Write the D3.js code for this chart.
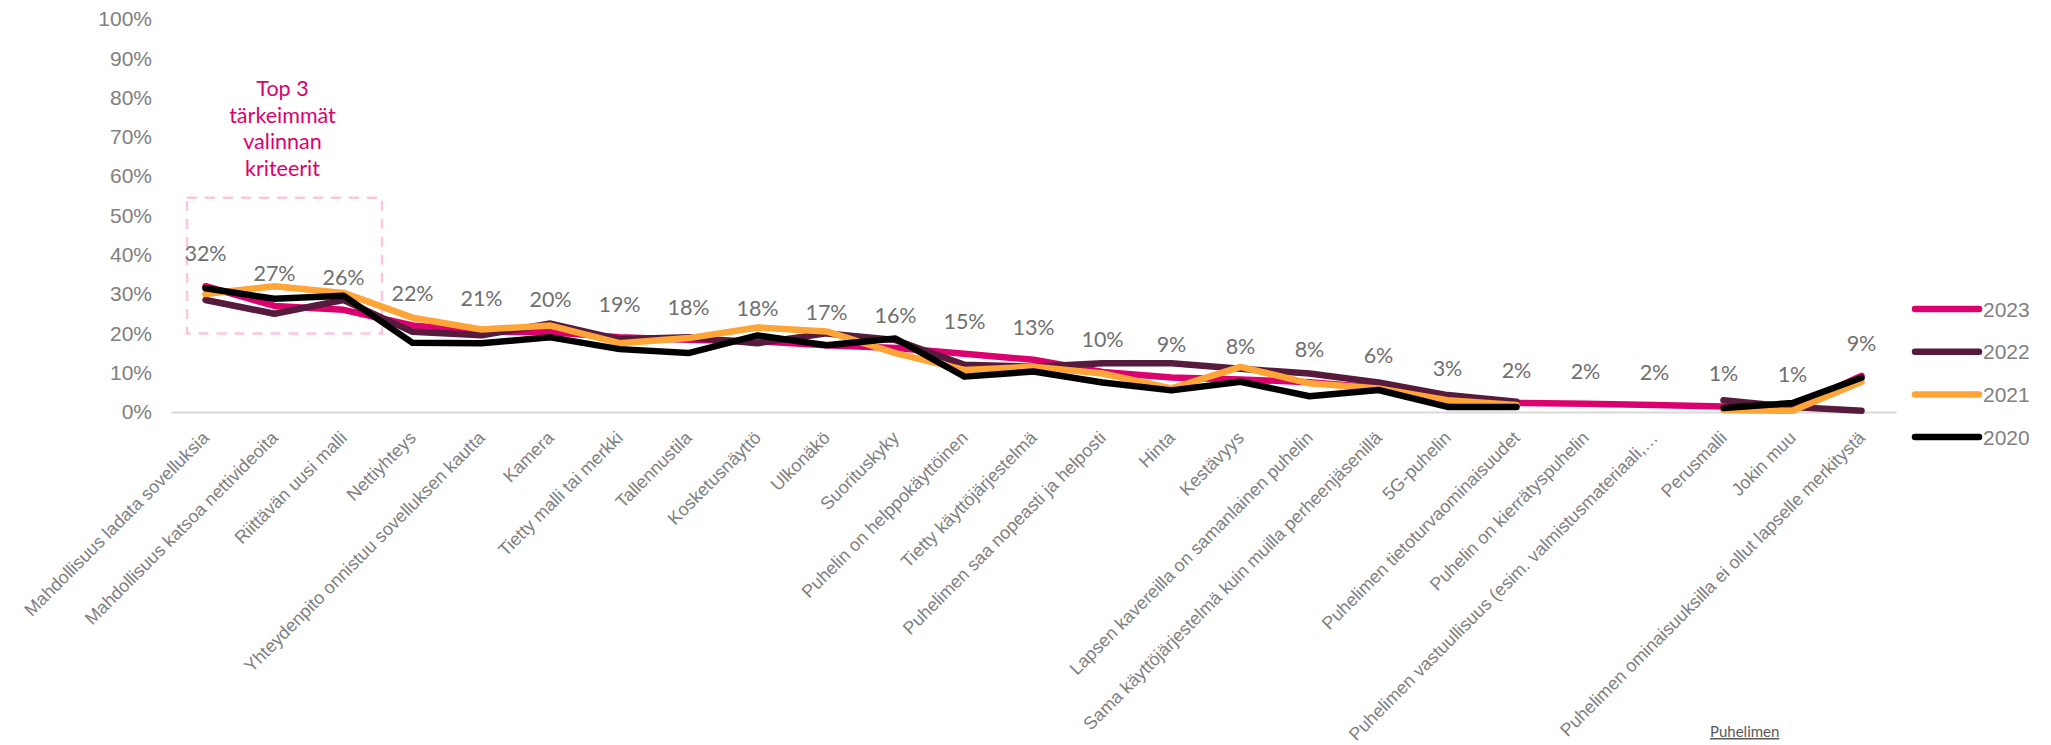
<!DOCTYPE html>
<html>
<head>
<meta charset="utf-8">
<script src="https://cdn.jsdelivr.net/npm/d3@7/dist/d3.min.js"></script>
<style>
  html, body { margin: 0; padding: 0; background: #fff; }
  svg { display: block; }
</style>
</head>
<body>
<svg id="canvas" width="2051" height="745"></svg>
<script>
// categories (x axis)
const categories = [
  "Mahdollisuus ladata sovelluksia",
  "Mahdollisuus katsoa nettivideoita",
  "Riittävän uusi malli",
  "Nettiyhteys",
  "Yhteydenpito onnistuu sovelluksen kautta",
  "Kamera",
  "Tietty malli tai merkki",
  "Tallennustila",
  "Kosketusnäyttö",
  "Ulkonäkö",
  "Suorituskyky",
  "Puhelin on helppokäyttöinen",
  "Tietty käyttöjärjestelmä",
  "Puhelimen saa nopeasti ja helposti",
  "Hinta",
  "Kestävyys",
  "Lapsen kavereilla on samanlainen puhelin",
  "Sama käyttöjärjestelmä kuin muilla perheenjäsenillä",
  "5G-puhelin",
  "Puhelimen tietoturvaominaisuudet",
  "Puhelin on kierrätyspuhelin",
  "Puhelimen vastuullisuus (esim. valmistusmateriaali,…",
  "Perusmalli",
  "Jokin muu",
  "Puhelimen ominaisuuksilla ei ollut lapselle merkitystä"
];

// series values in %, null = not asked that year
const v2023 = [32, 27, 26, 22, 20.5, 20.3, 19, 18.4, 18, 17, 16.3, 14.8, 13.3, 10.2, 8.8, 8.3, 7.6, 6.2, 2.8, 2.3, 2.1, 1.8, 1.4, 1.2, 9.2];
const v2022 = [28.5, 25, 28.5, 20.4, 19.5, 22.5, 18.5, 19, 17.5, 20, 18.3, 12, 11.5, 12.4, 12.4, 11, 9.8, 7.5, 4.3, 2.6, null, null, 3, 1.3, 0.3];
const v2021 = [30, 32, 30.3, 24, 21, 22, 17.5, 18.8, 21.5, 20.5, 15, 10.7, 11.5, 9.8, 6, 11.5, 7.3, 6, 3, 1.8, null, null, 0.5, 0.3, 7.7];
const v2020 = [31.5, 28.8, 29.6, 17.6, 17.5, 19, 16, 15, 19.5, 17, 18.7, 9, 10.3, 7.5, 5.5, 7.7, 4, 5.6, 1.3, 1.3, null, null, 1, 2.3, 8.7];

const years = ["2023", "2022", "2021", "2020"];
const seriesValues = [v2023, v2022, v2021, v2020];
const colors = ["#DA006E", "#561A3C", "#FFA437", "#000000"];

const yTicks = [0, 10, 20, 30, 40, 50, 60, 70, 80, 90, 100];
const noteLines = ["Top 3", "tärkeimmät", "valinnan", "kriteerit"];

const svg = d3.select("#canvas");

const x = d3.scalePoint().domain(categories).range([171, 1896]).padding(0.5);
const y = d3.scaleLinear().domain([0, 100]).range([412, 19]);

// y axis labels
const yAxis = svg.append("g")
    .attr("transform", "translate(152,0)")
    .call(d3.axisLeft(y).tickValues(yTicks).tickSize(0).tickPadding(0).tickFormat(d => d + "%"));
yAxis.select(".domain").remove();
yAxis.selectAll("text")
    .attr("font-family", "'Liberation Sans', Arial, sans-serif")
    .attr("font-size", 21)
    .attr("fill", "#808080");

// x axis
const xAxis = svg.append("g")
    .attr("transform", "translate(0,412)")
    .call(d3.axisBottom(x).tickSize(0).tickSizeOuter(0));
xAxis.select(".domain")
    .attr("stroke", "#d9d9d9")
    .attr("stroke-width", 2);
xAxis.selectAll("text")
    .attr("y", 0)
    .attr("dy", 0)
    .attr("transform", "translate(4,27) rotate(-45)")
    .attr("text-anchor", "end")
    .attr("font-family", "'Liberation Sans', Arial, sans-serif")
    .attr("font-size", 18)
    .attr("fill", "#7f7f7f");

// top 3 box + note
svg.append("rect")
    .attr("x", x(categories[0]) - 18.5)
    .attr("y", y(54.5))
    .attr("width", x(categories[2]) - x(categories[0]) + 57)
    .attr("height", y(20) - y(54.5))
    .attr("fill", "none")
    .attr("stroke", "#FCC6DF")
    .attr("stroke-width", 2.5)
    .attr("stroke-dasharray", "10,8");

svg.append("g").selectAll("text")
    .data(noteLines)
    .join("text")
    .attr("x", x(categories[1]) + 8)
    .attr("y", (d, i) => 96 + i * 26.5)
    .attr("text-anchor", "middle")
    .attr("font-family", "Lato, sans-serif")
    .attr("font-size", 21.5)
    .attr("fill", "#DA006E")
    .text(d => d);

// lines
const line = d3.line()
    .defined(d => d != null)
    .x((d, i) => x(categories[i]))
    .y(d => y(d));

svg.append("g").selectAll("path")
    .data(seriesValues)
    .join("path")
    .attr("d", d => line(d))
    .attr("fill", "none")
    .attr("stroke", (d, i) => colors[i])
    .attr("stroke-width", 6.5)
    .attr("stroke-linecap", "round")
    .attr("stroke-linejoin", "round");

// data labels (2023)
svg.append("g").selectAll("text")
    .data(v2023)
    .join("text")
    .attr("x", (d, i) => x(categories[i]))
    .attr("y", d => y(d) - 25)
    .attr("text-anchor", "middle")
    .attr("font-family", "Lato, sans-serif")
    .attr("font-size", 21.5)
    .attr("fill", "#707070")
    .text(d => Math.round(d) + "%");

// legend
const legend = svg.append("g").selectAll("g")
    .data(years)
    .join("g")
    .attr("transform", (d, i) => `translate(1915,${309 + i * 42.7})`);
legend.append("line")
    .attr("x1", 0).attr("x2", 64)
    .attr("stroke", (d, i) => colors[i])
    .attr("stroke-width", 6.5)
    .attr("stroke-linecap", "round");
legend.append("text")
    .attr("x", 68)
    .attr("dy", "0.36em")
    .attr("font-family", "'Liberation Sans', Arial, sans-serif")
    .attr("font-size", 21)
    .attr("fill", "#7f7f7f")
    .text(d => d);

// cut-off footnote at the bottom
svg.append("text")
    .attr("x", 1710)
    .attr("y", 737)
    .attr("font-family", "Lato, sans-serif")
    .attr("font-size", 15)
    .attr("fill", "#595959")
    .attr("text-decoration", "underline")
    .text("Puhelimen");
</script>
</body>
</html>
